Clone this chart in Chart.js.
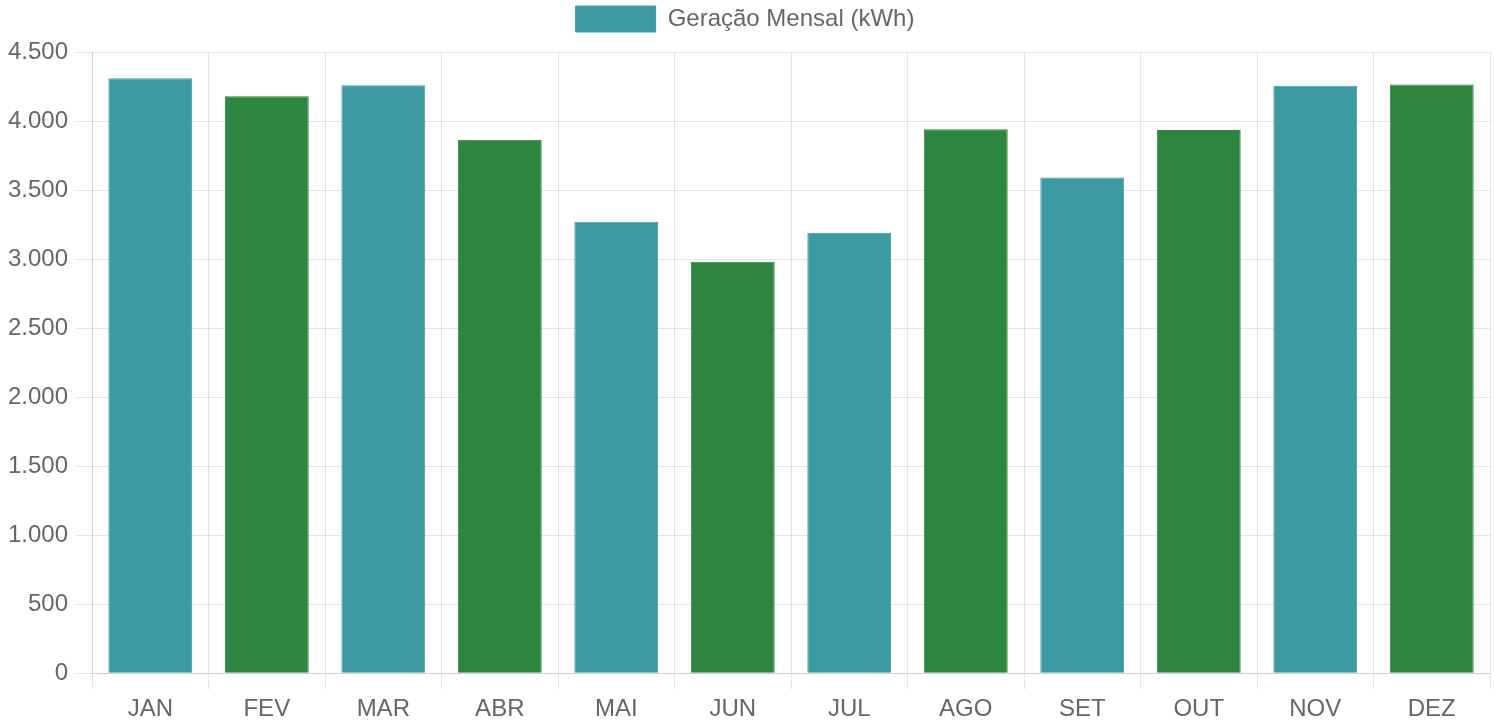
<!DOCTYPE html>
<html>
<head>
<meta charset="utf-8">
<script src="https://cdn.jsdelivr.net/npm/chart.js@4/dist/chart.umd.min.js"></script>
<style>
  html, body { margin: 0; padding: 0; background: #fff; }
</style>
</head>
<body>
<canvas id="geracao-chart" width="1495" height="723"></canvas>
<script>
const meses = ['JAN', 'FEV', 'MAR', 'ABR', 'MAI', 'JUN', 'JUL', 'AGO', 'SET', 'OUT', 'NOV', 'DEZ'];
const geracao = [4310, 4180, 4260, 3865, 3270, 2980, 3190, 3940, 3590, 3935, 4255, 4265];
const coresBarras = ['#3d9aa3', '#2e8540', '#3d9aa3', '#2e8540', '#3d9aa3', '#2e8540',
                     '#3d9aa3', '#2e8540', '#3d9aa3', '#2e8540', '#3d9aa3', '#2e8540'];

Chart.defaults.font.family = "'Liberation Sans', Arial, sans-serif";
Chart.defaults.font.size = 24;
Chart.defaults.color = '#666';

const ctx = document.getElementById('geracao-chart');

// extra space below the legend
const legendMargin = {
    id: 'legendMargin',
    beforeInit(chart) {
        const fit = chart.legend.fit;
        chart.legend.fit = function () {
            fit.bind(chart.legend)();
            this.height += 10;
        };
    }
};

let conf = {
    type: 'bar',
    data: {
        labels: meses,
        datasets: [{
            label: 'Geração Mensal (kWh)',
            data: geracao,
            backgroundColor: coresBarras,
            borderColor: coresBarras,
            borderWidth: 1
        }]
    },
    options: {
        responsive: false,
        animation: false,
        locale: 'pt-BR',
        layout: {
            padding: { left: 0, right: 5, top: -2, bottom: -7 }
        },
        plugins: {
            legend: {
                labels: {
                    boxWidth: 80,
                    boxHeight: 26,
                    padding: 8,
                    generateLabels: (chart) => [{
                        text: 'Geração Mensal (kWh)',
                        fillStyle: '#3d9aa3',
                        strokeStyle: '#3d9aa3',
                        lineWidth: 1,
                        fontColor: '#666',
                        datasetIndex: 0
                    }]
                }
            },
            tooltip: { enabled: false }
        },
        scales: {
            x: {
                grid: { color: 'rgba(0,0,0,0.1)', tickLength: 16 },
                ticks: { padding: 6 }
            },
            y: {
                min: 0,
                max: 4500,
                grid: { color: 'rgba(0,0,0,0.1)', tickLength: 16 },
                ticks: { stepSize: 500, padding: 8 }
            }
        }
    },
    plugins: [legendMargin]
};

var geracaoChart = new Chart(ctx, conf);
</script>
</body>
</html>
